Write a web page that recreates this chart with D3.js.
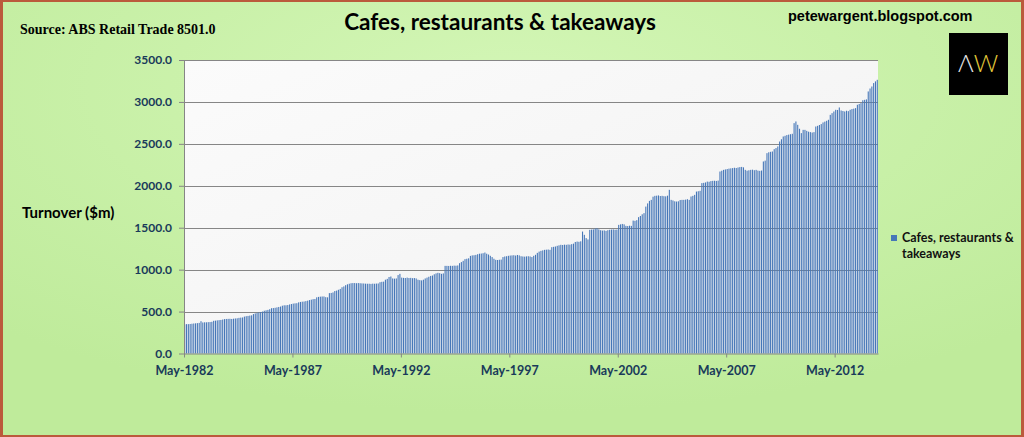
<!DOCTYPE html>
<html>
<head>
<meta charset="utf-8">
<script src="https://cdn.jsdelivr.net/npm/d3@7"></script>
<style>
  body { margin: 0; overflow: hidden; background: #fff; }
  svg { display: block; }
</style>
</head>
<body>
<svg id="chart" width="1024" height="437"></svg>
<script>
/*------------------- data --------------------*/
// monthly turnover ($m), May-1982 .. Apr-2014, one row per May..Apr year
const turnover = [
    348, 350, 350, 352, 355, 358, 360, 362, 365, 385, 370, 372,
    372, 374, 375, 378, 390, 392, 395, 398, 400, 405, 410, 412,
    413, 414, 412, 415, 418, 420, 425, 428, 430, 440, 445, 448,
    452, 455, 470, 478, 485, 490, 495, 500, 510, 515, 520, 528,
    540, 542, 545, 550, 555, 560, 570, 575, 575, 578, 585, 590,
    595, 598, 600, 610, 615, 618, 620, 625, 630, 637, 642, 648,
    650, 670, 675, 678, 680, 680, 672, 670, 720, 722, 728, 745,
    750, 760, 770, 790, 800, 815, 825, 832, 838, 840, 840, 838,
    840, 838, 836, 835, 833, 832, 832, 830, 833, 832, 834, 835,
    850, 855, 857, 880, 890, 912, 918, 895, 893, 895, 935, 950,
    905, 902, 900, 905, 900, 902, 898, 900, 895, 880, 875, 872,
    880, 895, 905, 915, 925, 930, 945, 955, 962, 958, 950, 955,
    1045, 1045, 1044, 1046, 1045, 1048, 1047, 1050, 1077, 1090, 1105, 1125,
    1130, 1135, 1164, 1170, 1172, 1176, 1184, 1190, 1192, 1196, 1204, 1190,
    1180, 1165, 1150, 1130, 1117, 1115, 1118, 1120, 1150, 1157, 1160, 1165,
    1168, 1170, 1172, 1168, 1175, 1170, 1160, 1157, 1155, 1158, 1160, 1157,
    1150, 1165, 1177, 1200, 1215, 1224, 1230, 1236, 1238, 1240, 1236, 1268,
    1272, 1276, 1284, 1290, 1296, 1294, 1298, 1296, 1300, 1298, 1304, 1310,
    1330, 1335, 1332, 1338, 1454, 1415, 1376, 1360, 1475, 1478, 1480, 1490,
    1495, 1480, 1470, 1466, 1468, 1462, 1470, 1475, 1478, 1480, 1476, 1478,
    1534, 1540, 1545, 1540, 1522, 1520, 1524, 1522, 1585, 1582, 1590, 1626,
    1640, 1660, 1674, 1752, 1790, 1820, 1832, 1870, 1880, 1882, 1885, 1878,
    1880, 1876, 1874, 1882, 1952, 1832, 1825, 1815, 1812, 1815, 1830, 1832,
    1832, 1835, 1840, 1832, 1872, 1880, 1892, 1931, 1935, 1940, 2032, 2035,
    2040, 2050, 2048, 2056, 2059, 2060, 2058, 2062, 2170, 2180, 2190, 2195,
    2200, 2205, 2208, 2211, 2215, 2212, 2218, 2223, 2225, 2220, 2190, 2180,
    2185, 2190, 2192, 2186, 2190, 2181, 2178, 2182, 2290, 2300, 2389, 2400,
    2405, 2409, 2437, 2450, 2469, 2528, 2555, 2588, 2596, 2605, 2610, 2615,
    2620, 2747, 2767, 2727, 2680, 2628, 2667, 2667, 2655, 2645, 2640, 2635,
    2640, 2707, 2715, 2725, 2736, 2755, 2765, 2775, 2787, 2846, 2866, 2886,
    2906, 2904, 2934, 2898, 2892, 2886, 2895, 2890, 2906, 2915, 2920, 2926,
    2966, 2976, 2986, 3020, 3025, 3030, 3125, 3160, 3184, 3225, 3245, 3264
];

// month categories
const months = d3.timeMonth.range(new Date(1982, 4, 1), new Date(2014, 4, 1));
const fmtMonth = d3.timeFormat("%b-%Y");

const xTickLabels = ["May-1982", "May-1987", "May-1992", "May-1997", "May-2002", "May-2007", "May-2012"];
const yTicks = [0, 500, 1000, 1500, 2000, 2500, 3000, 3500];

const seriesName = ["Cafes, restaurants &", "takeaways"];
const chartTitle = "Cafes, restaurants & takeaways";

/*------------------- layout --------------------*/
const W = 1024, H = 437;
const plot = { left: 184, right: 878, top: 60, bottom: 353.5 };

const svg = d3.select("#chart");
const defs = svg.append("defs");

const bg = defs.append("radialGradient").attr("id", "bgGrad")
    .attr("cx", "50%").attr("cy", "20%").attr("r", "75%");
bg.append("stop").attr("offset", "0%").attr("stop-color", "#d3f6b6");
bg.append("stop").attr("offset", "100%").attr("stop-color", "#bfeb9b");

const pg = defs.append("linearGradient").attr("id", "plotGrad")
    .attr("x1", "0").attr("y1", "0").attr("x2", "1").attr("y2", "1");
pg.append("stop").attr("offset", "0%").attr("stop-color", "#fbfbfb");
pg.append("stop").attr("offset", "100%").attr("stop-color", "#f1f1f1");

// page background + red frame
svg.append("rect").attr("width", W).attr("height", H).attr("fill", "#bb5a3c");
svg.append("rect").attr("x", 3).attr("y", 2).attr("width", W - 6).attr("height", H - 4)
    .attr("fill", "url(#bgGrad)");

// plot area
svg.append("rect")
    .attr("x", plot.left).attr("y", plot.top)
    .attr("width", plot.right - plot.left).attr("height", plot.bottom - plot.top)
    .attr("fill", "url(#plotGrad)");

/*------------------- scales --------------------*/
const xBand = d3.scaleBand()
    .domain(d3.range(turnover.length))
    .range([plot.left, plot.right])
    .paddingInner(0.4)
    .paddingOuter(0.1);

const xLin = d3.scaleLinear()
    .domain([0, turnover.length])
    .range([plot.left, plot.right]);

const yScale = d3.scaleLinear().domain([0, 3500]).range([plot.bottom, plot.top]);

// gridlines
svg.append("g")
    .selectAll("line")
    .data(yTicks.filter(d => d > 0))
    .enter()
    .append("line")
    .attr("x1", plot.left).attr("x2", plot.right)
    .attr("y1", d => Math.round(yScale(d)) + 0.5)
    .attr("y2", d => Math.round(yScale(d)) + 0.5)
    .attr("stroke", "#868686")
    .attr("stroke-width", 1);

// bars
svg.append("g")
    .selectAll("rect")
    .data(turnover)
    .enter()
    .append("rect")
    .attr("x", (d, i) => xBand(i))
    .attr("y", d => yScale(d))
    .attr("width", xBand.bandwidth())
    .attr("height", d => plot.bottom - yScale(d))
    .attr("fill", "#4677b8")
    .append("title")
    .text((d, i) => fmtMonth(months[i]) + ": " + d);

/*------------------- axes --------------------*/
const tickIdx = xTickLabels.map((_, i) => i * 60);

const xAxis = svg.append("g")
    .attr("transform", "translate(0," + plot.bottom + ")")
    .call(d3.axisBottom(xLin)
        .tickValues(tickIdx)
        .tickFormat((d, i) => xTickLabels[i])
        .tickSize(4)
        .tickSizeOuter(0));

const yAxis = svg.append("g")
    .attr("transform", "translate(" + plot.left + ",0)")
    .call(d3.axisLeft(yScale)
        .tickValues(yTicks)
        .tickFormat(d3.format(".1f"))
        .tickSize(5)
        .tickSizeOuter(0));

[xAxis, yAxis].forEach(a => {
    a.select(".domain").attr("stroke", "#868686");
    a.selectAll(".tick line").attr("stroke", "#868686");
    a.selectAll("text")
        .attr("fill", "#193a5a")
        .style("font-family", "Lato, 'Liberation Sans', sans-serif")
        .style("font-weight", "bold");
});
xAxis.selectAll("text").style("font-size", "12.5px").attr("dy", "1.05em").attr("y", 8);
yAxis.selectAll("text").style("font-size", "12px").attr("x", -12);

/*------------------- texts --------------------*/
svg.append("text")
    .attr("x", 500).attr("y", 30)
    .attr("text-anchor", "middle")
    .style("font-family", "Lato, sans-serif")
    .style("font-weight", "bold")
    .style("font-size", "22.5px")
    .attr("fill", "#000")
    .text(chartTitle);

svg.append("text")
    .attr("x", 20).attr("y", 34)
    .style("font-family", "'Liberation Serif', 'Times New Roman', serif")
    .style("font-weight", "bold")
    .style("font-size", "14px")
    .attr("fill", "#000")
    .text("Source: ABS Retail Trade 8501.0");

svg.append("text")
    .attr("x", 788).attr("y", 21)
    .style("font-family", "'Liberation Sans', Arial, sans-serif")
    .style("font-weight", "bold")
    .style("font-size", "14.5px")
    .attr("fill", "#000")
    .text("petewargent.blogspot.com");

svg.append("text")
    .attr("x", 22).attr("y", 218)
    .style("font-family", "Lato, sans-serif")
    .style("font-weight", "bold")
    .style("font-size", "15px")
    .attr("fill", "#000")
    .text("Turnover ($m)");

// logo
svg.append("rect")
    .attr("x", 949).attr("y", 33).attr("width", 59).attr("height", 62)
    .attr("fill", "#000");
const logo = svg.append("text")
    .attr("x", 978).attr("y", 72)
    .attr("text-anchor", "middle")
    .style("font-family", "Lato, sans-serif")
    .style("font-weight", "300")
    .style("font-size", "24px");
logo.append("tspan").attr("fill", "#e6e6e6").text("\u039B");
logo.append("tspan").attr("fill", "#e3c83a").text("W");

// legend
svg.append("rect")
    .attr("x", 891).attr("y", 235).attr("width", 6).attr("height", 6)
    .attr("fill", "#4677b8");
svg.append("g").selectAll("text")
    .data(seriesName)
    .enter()
    .append("text")
    .attr("x", 902)
    .attr("y", (d, i) => 242 + i * 16)
    .style("font-family", "Lato, sans-serif")
    .style("font-weight", "bold")
    .style("font-size", "12.5px")
    .attr("fill", "#111")
    .text(d => d);
</script>
</body>
</html>
